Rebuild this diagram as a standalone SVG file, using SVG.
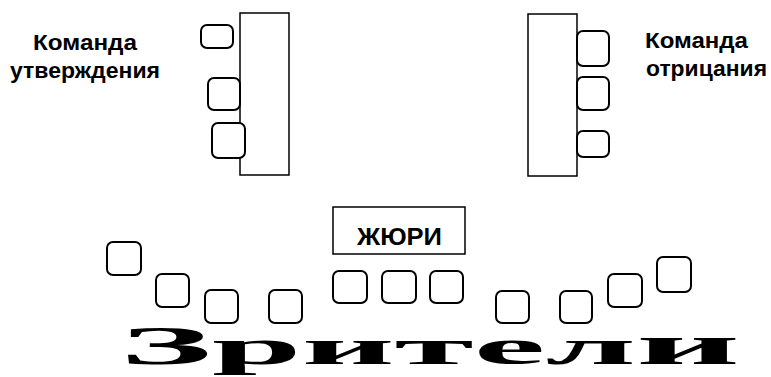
<svg xmlns="http://www.w3.org/2000/svg" width="771" height="377" viewBox="0 0 771 377">
<style>
.table{fill:#fff;stroke:#000;stroke-width:1.5}
.seat{fill:#fff;stroke:#000;stroke-width:2}
.lbl{font-family:"Liberation Sans",Arial,sans-serif;font-weight:bold;font-size:22px;fill:#000}
.jury{font-family:"Liberation Sans",Arial,sans-serif;font-weight:bold;font-size:24px;fill:#000}
.aud{font-family:"Liberation Serif","Times New Roman",serif;font-weight:bold;font-size:50px;fill:#000}
</style>
<rect width="771" height="377" fill="#fff"/>

<g id="team-affirmative">
  <rect class="table" x="240" y="13" width="49" height="162"/>
  <rect class="seat" x="201" y="25" width="32" height="23" rx="6"/>
  <rect class="seat" x="208" y="78" width="32" height="32" rx="6"/>
  <rect class="seat" x="212" y="123" width="33" height="35" rx="6"/>
  <text class="lbl" x="33" y="50" textLength="104" lengthAdjust="spacingAndGlyphs">Команда</text>
  <text class="lbl" x="10" y="78" textLength="150" lengthAdjust="spacingAndGlyphs">утверждения</text>
</g>

<g id="team-negative">
  <rect class="table" x="528" y="14" width="49" height="162"/>
  <rect class="seat" x="577" y="31" width="32" height="35" rx="6"/>
  <rect class="seat" x="577" y="77" width="32" height="33" rx="6"/>
  <rect class="seat" x="577" y="131" width="32" height="26" rx="6"/>
  <text class="lbl" x="645" y="48" textLength="103" lengthAdjust="spacingAndGlyphs">Команда</text>
  <text class="lbl" x="646" y="76" textLength="121" lengthAdjust="spacingAndGlyphs">отрицания</text>
</g>

<g id="jury">
  <rect class="table" x="333" y="207" width="132" height="47"/>
  <text class="jury" x="357" y="245" textLength="85" lengthAdjust="spacingAndGlyphs">ЖЮРИ</text>
  <rect class="seat" x="333" y="271" width="34" height="32" rx="6"/>
  <rect class="seat" x="382" y="271" width="34" height="32" rx="6"/>
  <rect class="seat" x="430" y="271" width="33" height="32" rx="6"/>
</g>

<g id="audience">
  <rect class="seat" x="107" y="242" width="34" height="33" rx="6"/>
  <rect class="seat" x="156" y="274" width="33" height="33" rx="6"/>
  <rect class="seat" x="205" y="290" width="33" height="33" rx="6"/>
  <rect class="seat" x="269" y="290" width="33" height="33" rx="6"/>
  <rect class="seat" x="496" y="291" width="33" height="32" rx="6"/>
  <rect class="seat" x="560" y="291" width="32" height="32" rx="6"/>
  <rect class="seat" x="608" y="274" width="34" height="33" rx="6"/>
  <rect class="seat" x="657" y="257" width="34" height="35" rx="6"/>
  <text class="aud" x="120" y="364" textLength="620" lengthAdjust="spacingAndGlyphs"><tspan font-size="54">З</tspan>рител<tspan font-size="56">и</tspan></text>
</g>
</svg>
